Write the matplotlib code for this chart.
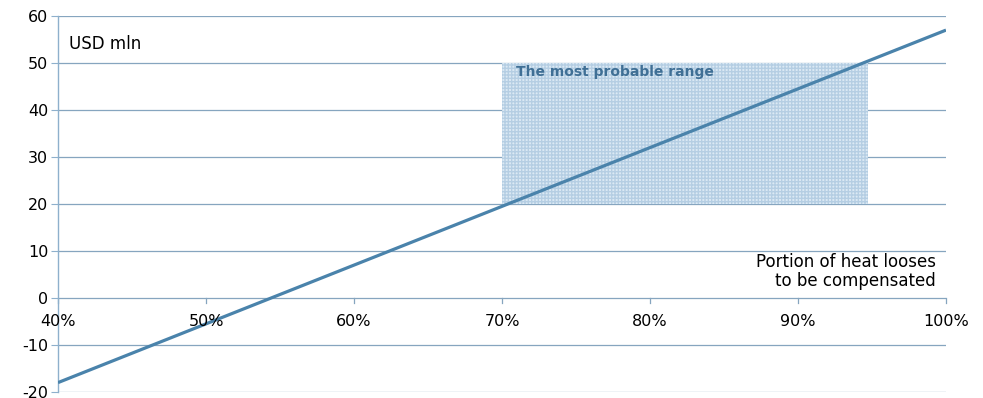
import matplotlib.pyplot as plt
from matplotlib.patches import Rectangle

plt.rcParams["axes.unicode_minus"] = False

# share of heat losses compensated (%) vs. result, USD mln
share = [40, 100]
usd_mln = [-18, 57]

# most probable range box
range_x = [70, 94.7]
range_y = [20, 50]

x_ticks = [40, 50, 60, 70, 80, 90, 100]
y_ticks = [-20, -10, 0, 10, 20, 30, 40, 50, 60]

grid_c = "#86a5bf"
line_c = "#4a83ab"

fig = plt.figure(figsize=(9.83, 3.98), dpi=100)
ax = fig.add_axes([58 / 983, 6 / 398, 888 / 983, 376 / 398])

ax.set_xlim(40, 100)
ax.set_ylim(-20, 60)

# horizontal grid lines
for v in y_ticks:
    ax.axhline(v, color=grid_c, lw=0.9, zorder=1)

# hatched rectangle for the probable range
box = Rectangle((range_x[0], range_y[0]), range_x[1] - range_x[0], range_y[1] - range_y[0],
                facecolor="#dce9f4", edgecolor="#b5cee3", hatch="+++++", lw=0, zorder=2)
ax.add_patch(box)
ax.text(range_x[0] + 0.95, 47.2, "The most probable range", fontsize=10, weight="bold",
        color="#3f6f95", zorder=4)

ax.plot(share, usd_mln, color=line_c, lw=2.3, solid_capstyle="butt", zorder=3)

# spines: only the left one
for s in ["top", "right", "bottom"]:
    ax.spines[s].set_visible(False)
ax.spines["left"].set_color("#8eb0cc")
ax.spines["left"].set_linewidth(1.0)

ax.set_yticks(y_ticks)
ax.tick_params(axis="y", length=5, color="#8eb0cc", labelsize=11.5, pad=2)

# x ticks hang off the zero line
ax.set_xticks(x_ticks)
ax.xaxis.set_ticks_position("none")
ax.set_xticklabels([])
for v in x_ticks:
    ax.plot([v, v], [0, -1.1], color=grid_c, lw=0.9, zorder=1, clip_on=False)
    ax.text(v, -3.4, "%d%%" % v, ha="center", va="top", fontsize=11.5)

ax.text(0.012, 0.95, "USD mln", transform=ax.transAxes, fontsize=12, va="top")
ax.text(99.3, 9.6, "Portion of heat looses\nto be compensated", ha="right", va="top",
        fontsize=12, linespacing=1.05)

fig.savefig("out.png", dpi=100)
